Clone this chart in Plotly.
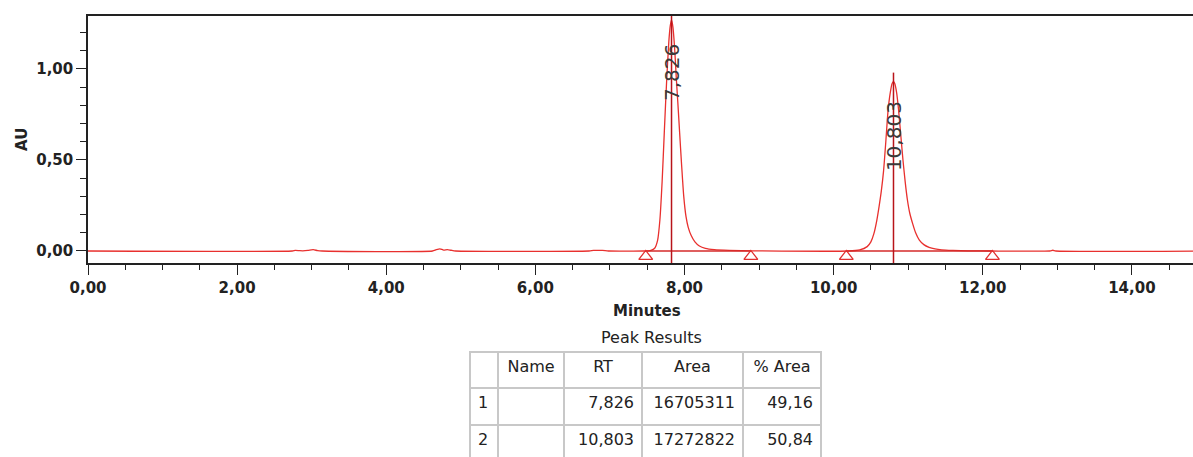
import plotly.graph_objects as go

# ---------------- data ----------------
time_min = [
    0.00, 2.74, 2.78, 2.83, 2.88, 2.95, 3.02, 3.08, 3.14,
    4.62, 4.67, 4.72, 4.77, 4.82, 4.87, 4.93,
    6.72, 6.78, 6.90, 6.98,
    7.45, 7.55, 7.60, 7.64, 7.67, 7.70, 7.73, 7.76, 7.79, 7.81, 7.826,
    7.845, 7.87, 7.89, 7.91, 7.935, 7.96, 7.99, 8.02, 8.05, 8.09, 8.14,
    8.20, 8.28, 8.40, 8.60, 8.90,
    10.20, 10.35, 10.45, 10.50, 10.54, 10.58, 10.61, 10.64, 10.67, 10.70,
    10.73, 10.76, 10.785, 10.803, 10.82, 10.845, 10.87, 10.90, 10.93,
    10.96, 10.99, 11.02, 11.06, 11.10, 11.15, 11.21, 11.28, 11.36, 11.45,
    11.60, 11.80, 12.10,
    12.90, 12.94, 12.98, 14.90,
]
absorbance_au = [
    0.000, 0.000, 0.003, 0.002, 0.001, 0.003, 0.007, 0.002, 0.000,
    0.000, 0.007, 0.012, 0.005, 0.008, 0.004, 0.000,
    0.000, 0.003, 0.003, 0.000,
    0.000, 0.004, 0.015, 0.060, 0.170, 0.380, 0.660, 0.930, 1.150, 1.240, 1.270,
    1.230, 1.100, 0.950, 0.820, 0.650, 0.480, 0.300, 0.190, 0.130, 0.085, 0.050,
    0.027, 0.014, 0.007, 0.003, 0.001,
    0.000, 0.006, 0.024, 0.050, 0.095, 0.170, 0.245, 0.330, 0.440, 0.600,
    0.770, 0.870, 0.920, 0.930, 0.920, 0.870, 0.780, 0.640, 0.500,
    0.380, 0.280, 0.210, 0.150, 0.100, 0.060, 0.035, 0.020, 0.011, 0.006,
    0.003, 0.001, 0.000,
    0.000, 0.004, 0.000, 0.000,
]

peak_rt = [7.826, 10.803]
peak_label = ["7,826", "10,803"]
peak_marker_top = [1.30, 0.98]
peak_start = [7.48, 10.17]
peak_end = [8.89, 12.13]

table_header = ["", "Name", "RT", "Area", "%\u00a0Area"]
table_index = ["1", "2"]
table_name = ["", ""]
table_rt = ["7,826", "10,803"]
table_area = ["16705311", "17272822"]
table_pct_area = ["49,16", "50,84"]

# ---------------- figure ----------------
W, H = 1193, 457
ML, MR, MT, MB = 88, 0, 16, 0
PW, PH = W - ML - MR, H - MT - MB
X_RANGE = [0, 14.82]
Y_RANGE = [-0.066, 1.291]
TRI_OFFSET = -0.030


def px_to_paper_x(px):
    return (px - ML) / PW


def px_to_paper_y(py):
    return 1 - (py - MT) / PH


fig = go.Figure()

# chromatogram trace
fig.add_trace(go.Scatter(
    x=time_min, y=absorbance_au, mode="lines",
    line=dict(color="#e8302e", width=1.3, shape="spline", smoothing=0.6),
    hoverinfo="skip", showlegend=False,
))

# integration baselines
bx, by = [], []
for s, e in zip(peak_start, peak_end):
    bx += [s, e, None]
    by += [0, 0, None]
fig.add_trace(go.Scatter(
    x=bx, y=by, mode="lines",
    line=dict(color="#d42a2a", width=1.4),
    hoverinfo="skip", showlegend=False,
))

# baseline event triangles
events = peak_start + peak_end
fig.add_trace(go.Scatter(
    x=events, y=[TRI_OFFSET for _ in events],
    mode="markers",
    marker=dict(symbol="triangle-up-open", size=12, color="#e03030",
                line=dict(width=1.3, color="#e03030")),
    cliponaxis=False, hoverinfo="skip", showlegend=False,
))

# retention time drop lines
vx, vy = [], []
for rt, top in zip(peak_rt, peak_marker_top):
    vx += [rt, rt, None]
    vy += [Y_RANGE[0], top, None]
fig.add_trace(go.Scatter(
    x=vx, y=vy, mode="lines",
    line=dict(color="#b8141a", width=1.5),
    hoverinfo="skip", showlegend=False,
))

# peak labels (rotated)
for rt, top, lab in zip(peak_rt, peak_marker_top, peak_label):
    fig.add_annotation(
        x=rt, y=min(top, Y_RANGE[1]), xref="x", yref="y", text=lab,
        showarrow=False, textangle=-90, yanchor="top", xanchor="center",
        yshift=-26,
        font=dict(family="DejaVu Sans", size=20, color="#3a3a3a"),
    )

# axis titles / table title
common = dict(xref="paper", yref="paper", showarrow=False, xanchor="center", yanchor="middle")
fig.add_annotation(x=px_to_paper_x(22), y=px_to_paper_y(140), text="<b>AU</b>", textangle=-90,
                   font=dict(family="DejaVu Sans", size=15, color="#222"), **common)
fig.add_annotation(x=px_to_paper_x(647), y=px_to_paper_y(311), text="<b>Minutes</b>",
                   font=dict(family="DejaVu Sans", size=15, color="#222"), **common)
fig.add_annotation(x=px_to_paper_x(651), y=px_to_paper_y(337), text="Peak Results",
                   font=dict(family="DejaVu Sans", size=16, color="#222"), **common)

# table
fig.add_trace(go.Table(
    domain=dict(x=[px_to_paper_x(470), px_to_paper_x(821)],
                y=[0, px_to_paper_y(352)]),
    columnwidth=[28, 66, 78, 101, 78],
    header=dict(values=table_header, height=36,
                align="center", fill_color="white",
                line=dict(color="#c8c8c8", width=2),
                font=dict(family="DejaVu Sans", size=16, color="#222")),
    cells=dict(values=[table_index, table_name, table_rt, table_area, table_pct_area],
               height=37, align=["left", "left", "right", "right", "right"],
               fill_color="white",
               line=dict(color="#c8c8c8", width=2),
               font=dict(family="DejaVu Sans", size=16, color="#222")),
))

tickfont = dict(family="DejaVu Sans", size=15, color="#222", weight="bold")
fig.update_layout(
    width=W, height=H,
    margin=dict(l=ML, r=MR, t=MT, b=MB, pad=0),
    paper_bgcolor="white", plot_bgcolor="white",
    separators=",.",
    xaxis=dict(
        range=X_RANGE, showgrid=False, zeroline=False,
        showline=True, linecolor="#222", linewidth=1.5, mirror=True,
        ticks="outside", ticklen=10, tickwidth=1.3, tickcolor="#222",
        tick0=0, dtick=2, tickformat=".2f", tickfont=tickfont,
        minor=dict(dtick=0.5, ticks="outside", ticklen=5, tickcolor="#222", tickwidth=1.3),
    ),
    yaxis=dict(
        range=Y_RANGE, domain=[px_to_paper_y(263), 1], showgrid=False, zeroline=False,
        showline=True, linecolor="#222", linewidth=1.5,
        ticks="outside", ticklen=10, tickwidth=1.3, tickcolor="#222",
        tick0=0, dtick=0.5, tickformat=".2f", tickfont=tickfont,
        minor=dict(dtick=0.1, ticks="outside", ticklen=6, tickcolor="#222", tickwidth=1.3),
    ),
)

fig.write_html("out.html", config={"displayModeBar": False},
               post_script="document.body.style.margin='0';")
